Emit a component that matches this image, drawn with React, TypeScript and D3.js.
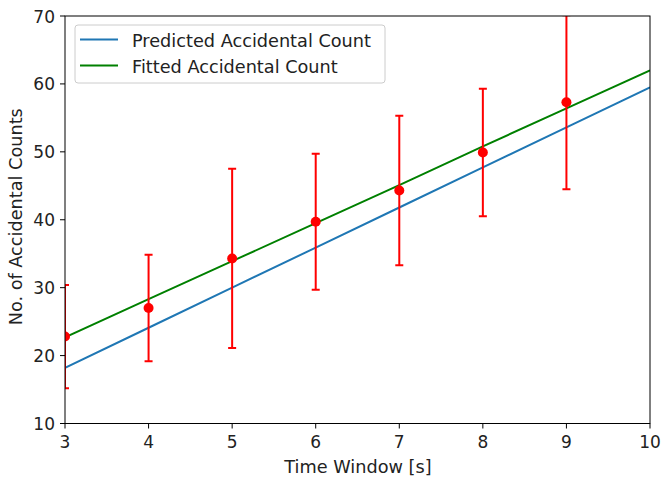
import React from "react";
import * as d3 from "d3";

const timeWindows = [3, 4, 5, 6, 7, 8, 9, 10];
const predictedCounts = [18.2, 24.1, 30.0, 35.9, 41.8, 47.7, 53.6, 59.5];
const fittedCounts = [22.7, 28.3, 33.9, 39.5, 45.1, 50.8, 56.4, 62.0];
const measuredX = [3, 4, 5, 6, 7, 8, 9];
const measuredCounts = [22.8, 27.0, 34.3, 39.7, 44.3, 49.9, 57.3];
const measuredErrors = [7.6, 7.85, 13.2, 10.0, 11.0, 9.4, 12.8];
const xTicks = [3, 4, 5, 6, 7, 8, 9, 10];
const yTicks = [10, 20, 30, 40, 50, 60, 70];
const seriesNames = ["Predicted Accidental Count", "Fitted Accidental Count"];

const W = 661, H = 478;
const L = 65, R = 650, T = 16, B = 423.5;
const FONT = "DejaVu Sans, sans-serif";
const TICK_FS = 17;
const LABEL_FS = 17.7;

export default function App() {
  const x = d3.scaleLinear().domain([3, 10]).range([L, R]);
  const y = d3.scaleLinear().domain([10, 70]).range([B, T]);
  const line = d3.line<number>().x((_, i) => x(timeWindows[i])).y((d) => y(d));
  return (
    <svg width={W} height={H} style={{ position: "absolute", left: 0, top: 0 }} fontFamily={FONT}>
      <defs>
        <clipPath id="plot">
          <rect x={L} y={T} width={R - L} height={B - T} />
        </clipPath>
      </defs>
      <rect x={0} y={0} width={W} height={H} fill="white" />
      <g clipPath="url(#plot)">
        <path d={line(predictedCounts) || ""} fill="none" stroke="#1f77b4" strokeWidth={2} />
        <path d={line(fittedCounts) || ""} fill="none" stroke="green" strokeWidth={2} />
        {measuredX.map((xv, i) => {
          const lo = measuredCounts[i] - measuredErrors[i];
          const hi = measuredCounts[i] + measuredErrors[i];
          const px = x(xv);
          return (
            <g key={i} stroke="red" strokeWidth={2}>
              <line x1={px} x2={px} y1={y(lo)} y2={y(hi)} />
              <line x1={px - 4} x2={px + 4} y1={y(lo)} y2={y(lo)} />
              <line x1={px - 4} x2={px + 4} y1={y(hi)} y2={y(hi)} />
              <circle cx={px} cy={y(measuredCounts[i])} r={5} fill="red" stroke="none" />
            </g>
          );
        })}
      </g>
      <rect x={L} y={T} width={R - L} height={B - T} fill="none" stroke="black" strokeWidth={1} />
      {xTicks.map((t) => (
        <g key={t}>
          <line x1={x(t)} x2={x(t)} y1={B} y2={B + 5} stroke="black" />
          <text x={x(t)} y={448} textAnchor="middle" fontSize={TICK_FS} fill="#222">{t}</text>
        </g>
      ))}
      {yTicks.map((t) => (
        <g key={t}>
          <line x1={L - 5} x2={L} y1={y(t)} y2={y(t)} stroke="black" />
          <text x={L - 10} y={y(t) + 6.5} textAnchor="end" fontSize={TICK_FS} fill="#222">{t}</text>
        </g>
      ))}
      <text x={(L + R) / 2 + 0.5} y={473} textAnchor="middle" fontSize={LABEL_FS} fill="#222">Time Window [s]</text>
      <text transform={`translate(22,${(T + B) / 2 - 3}) rotate(-90)`} textAnchor="middle" fontSize={LABEL_FS} fill="#222">No. of Accidental Counts</text>
      <g>
        <rect x={75} y={25} width={310} height={58} rx={3} fill="white" fillOpacity={0.8} stroke="#ccc" />
        {seriesNames.map((n, i) => (
          <g key={n}>
            <line x1={80} x2={118} y1={39.5 + i * 26} y2={39.5 + i * 26} stroke={i === 0 ? "#1f77b4" : "green"} strokeWidth={2} />
            <text x={132} y={46.5 + i * 26} fontSize={LABEL_FS} fill="#222">{n}</text>
          </g>
        ))}
      </g>
    </svg>
  );
}
